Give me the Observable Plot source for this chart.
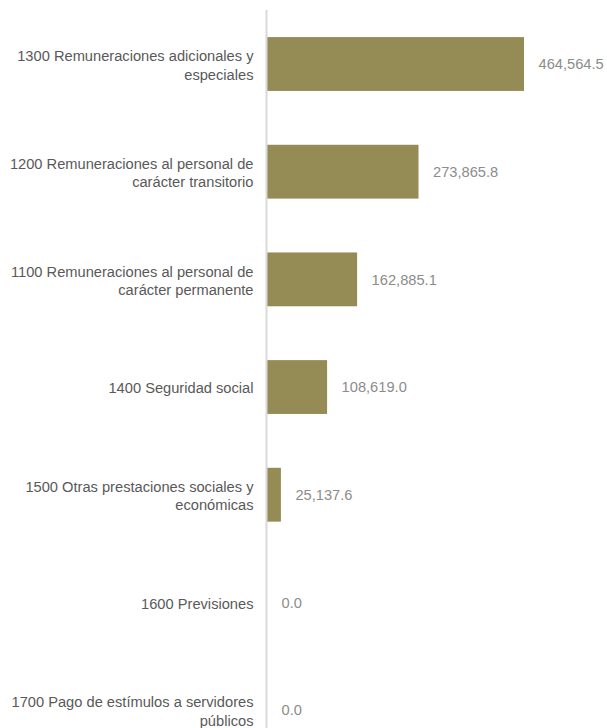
<!DOCTYPE html>
<html>
<head>
<meta charset="utf-8">
<script src="https://cdn.jsdelivr.net/npm/d3@7"></script>
<script src="https://cdn.jsdelivr.net/npm/@observablehq/plot@0.6"></script>
<style>
  html, body { margin: 0; padding: 0; background: #ffffff; overflow: hidden; }
  #chart svg { display: block; }
</style>
</head>
<body>
<div id="chart"></div>
<script>
const categories = [
  "1300 Remuneraciones adicionales y\nespeciales",
  "1200 Remuneraciones al personal de\ncarácter transitorio",
  "1100 Remuneraciones al personal de\ncarácter permanente",
  "1400 Seguridad social",
  "1500 Otras prestaciones sociales y\neconómicas",
  "1600 Previsiones",
  "1700 Pago de estímulos a servidores\npúblicos"
];
const values = [464564.5, 273865.8, 162885.1, 108619.0, 25137.6, 0.0, 0.0];

const data = categories.map((c, i) => ({category: c, value: values[i]}));
const fmt = d3.format(",.1f");

const chart = Plot.plot({
  width: 607,
  height: 728,
  marginTop: 10,
  marginBottom: 0,
  marginLeft: 0,
  marginRight: 0,
  style: {fontFamily: "'Liberation Sans', Arial, sans-serif", background: "#ffffff"},
  x: {domain: [0, 464564.5], range: [267, 524], axis: null},
  y: {domain: categories, range: [10.17, 763.9], paddingInner: 0.5, paddingOuter: 0.25, round: false, axis: null},
  marks: [
    Plot.barX(data, {x: "value", y: "category", fill: "#958b55"}),
    Plot.ruleX([0], {stroke: "#d9d9d9", strokeWidth: 2, dx: -1}),
    Plot.text(data, {x: "value", y: "category", text: d => fmt(d.value), textAnchor: "start", dx: 14, fill: "#8c8c8c", fontSize: 14.67}),
    Plot.text(data, {x: 0, y: "category", text: "category", textAnchor: "end", dx: -14, fill: "#595959", fontSize: 14.67, lineHeight: 1.25})
  ]
});
document.getElementById("chart").appendChild(chart);
</script>
</body>
</html>
